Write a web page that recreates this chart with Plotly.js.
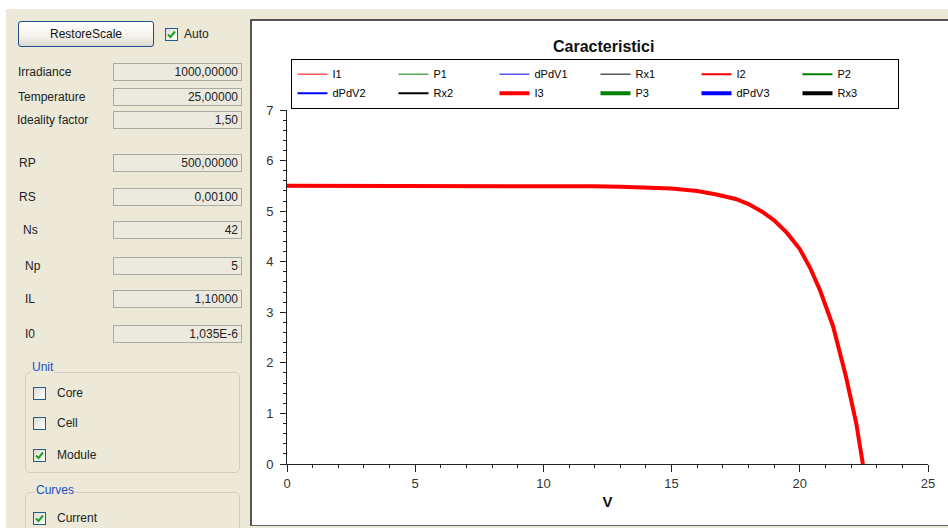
<!DOCTYPE html>
<html>
<head>
<meta charset="utf-8">
<script src="https://cdn.plot.ly/plotly-3.0.1.min.js"></script>
<style>
  html, body { margin:0; padding:0; background:#ffffff; width:948px; height:528px; overflow:hidden; font-family:"Liberation Sans", Arial, sans-serif; }
  .abs { position:absolute; }
  #bg { left:6px; top:9px; width:942px; height:519px; background:#ECE9D8; }
  #panel { left:250px; top:19px; width:698px; height:507px; background:#ffffff; border-top:2px solid #555; border-left:2px solid #555; border-bottom:1px solid #666; box-sizing:border-box; }
  #btn { left:18px; top:21px; width:136px; height:26px; box-sizing:border-box; border:1px solid #1f4f8a; border-radius:3px;
         background:linear-gradient(#ffffff 0%, #f3f2ec 60%, #dcd8cc 100%); font-size:12px; color:#111; text-align:center; line-height:24px; }
  .lbl { font-size:12px; color:#222; white-space:nowrap; transform:translateY(-50%); }
  .box { left:113px; width:129px; height:18px; box-sizing:border-box; border:1px solid #a8aba0; background:#ECEADF;
         font-size:12px; color:#222; text-align:right; padding-right:3px; line-height:16px; }
  .cb { width:13px; height:13px; box-sizing:border-box; border:1px solid #2a5a8c; background:linear-gradient(135deg,#dcdcd5,#ffffff); }
  .grp { left:25px; width:215px; box-sizing:border-box; border:1px solid #d2cfbf; border-radius:5px; }
  .gtitle { font-size:12px; color:#1b4fc4; background:#ECE9D8; padding:0 1px; transform:translateY(-50%); }
  #chart { left:0; top:0; width:948px; height:528px; }
</style>
</head>
<body>
<div id="bg" class="abs"></div>
<div id="panel" class="abs"></div>
<div id="btn" class="abs">RestoreScale</div>
<div id="ui"></div>
<div id="chart" class="abs"></div>
<script>
// ---- UI panel content ----
var paramLabels = ["Irradiance", "Temperature", "Ideality factor", "RP", "RS", "Ns", "Np", "IL", "I0"];
var paramValues = ["1000,00000", "25,00000", "1,50", "500,00000", "0,00100", "42", "5", "1,10000", "1,035E-6"];
var paramRowY   = [72, 97, 120, 163, 197, 230, 266, 299, 334];
var paramLabelX = [18, 18, 17, 19, 19, 23, 25, 25, 25];
var unitLabels  = ["Core", "Cell", "Module"];
var unitChecked = [false, false, true];
var unitRowY    = [393, 423, 455];

// ---- Chart data ----
var chartTitle = "Caracteristici";
var xAxisTitle = "V";
var seriesNames = ["I1", "P1", "dPdV1", "Rx1", "I2", "P2", "dPdV2", "Rx2", "I3", "P3", "dPdV3", "Rx3"];
var voltageV = [0, 2, 4, 6, 8, 10, 12, 13, 14, 15, 16, 16.75, 17.5, 18, 18.5, 19, 19.5, 20, 20.4, 20.8, 21.3, 21.8, 22.2, 22.46];
var currentI3 = [5.50, 5.50, 5.50, 5.50, 5.50, 5.50, 5.49, 5.48, 5.47, 5.45, 5.40, 5.33, 5.24, 5.14, 5.00, 4.82, 4.57, 4.25, 3.88, 3.42, 2.72, 1.73, 0.81, 0.0];
var xTickVals = [0, 5, 10, 15, 20, 25];
var yTickVals = [0, 1, 2, 3, 4, 5, 6, 7];

var ui = document.getElementById('ui');
function add(html){ ui.insertAdjacentHTML('beforeend', html); }
function checkbox(x, y, checked){
  var chk = checked ? '<svg width="11" height="11" style="position:absolute;left:0;top:0"><polyline points="2,5.5 4.5,8 9,2.5" fill="none" stroke="#21a121" stroke-width="2"/></svg>' : '';
  add('<div class="abs cb" style="left:'+x+'px;top:'+(y-6.5)+'px">'+chk+'</div>');
}
checkbox(165, 34, true);
add('<div class="abs lbl" style="left:184px;top:34px">Auto</div>');
for (var i = 0; i < paramLabels.length; i++) {
  add('<div class="abs lbl" style="left:'+paramLabelX[i]+'px;top:'+paramRowY[i]+'px">'+paramLabels[i]+'</div>');
  add('<div class="abs box" style="top:'+(paramRowY[i]-9)+'px">'+paramValues[i]+'</div>');
}
add('<div class="abs grp" style="top:372px;height:101px"></div>');
add('<div class="abs gtitle" style="left:31px;top:367px">Unit</div>');
for (var j = 0; j < unitLabels.length; j++) {
  checkbox(33, unitRowY[j], unitChecked[j]);
  add('<div class="abs lbl" style="left:57px;top:'+unitRowY[j]+'px">'+unitLabels[j]+'</div>');
}
add('<div class="abs grp" style="top:492px;height:60px"></div>');
add('<div class="abs gtitle" style="left:35px;top:490px">Curves</div>');
checkbox(33, 518, true);
add('<div class="abs lbl" style="left:57px;top:518px">Current</div>');

// ---- Plotly chart ----
var baseColors = {I:'#ff0000', P:'#008000', dPdV:'#0000ff', Rx:'#000000'};
function styleFor(name){
  var kind = name.replace(/[0-9]/g, '');
  var idx = parseInt(name.replace(/[^0-9]/g, ''), 10);
  var w = idx === 1 ? 1 : (idx === 2 ? 2 : 4);
  return {color: baseColors[kind], width: w};
}
var traces = seriesNames.map(function(n){
  var hasData = (n === 'I3');
  return {
    type:'scatter', mode:'lines', name:n,
    x: hasData ? voltageV : [null],
    y: hasData ? currentI3 : [null],
    line: styleFor(n),
    hoverinfo:'skip'
  };
});

var F = '"Liberation Sans", Arial, sans-serif';
var axCommon = {showgrid:false, zeroline:false, fixedrange:true};
var layout = {
  width:948, height:528,
  margin:{l:287, r:20, t:110, b:64, pad:0},
  paper_bgcolor:'rgba(0,0,0,0)', plot_bgcolor:'rgba(0,0,0,0)',
  font:{family:F, color:'#222'},
  annotations:[{text:chartTitle, xref:'paper', yref:'paper', x:0.494, y:1.18, xanchor:'center', yanchor:'middle',
                showarrow:false, font:{family:F, size:16, weight:'bold', color:'#111'}}],
  showlegend:true,
  legend:{orientation:'h', x:0.007, xanchor:'left', y:1.145, yanchor:'top',
          bgcolor:'#ffffff', bordercolor:'#000000', borderwidth:1,
          font:{family:F, size:11, color:'#000'}, entrywidth:56, entrywidthmode:'pixels',
          itemwidth:30, traceorder:'normal'},
  xaxis: Object.assign({}, axCommon, {
    range:[0,25], tickvals:xTickVals, ticks:'outside', ticklen:7, tickwidth:1, tickcolor:'#222',
    showline:true, linecolor:'#222', linewidth:1,
    minor:{dtick:1, tick0:0, ticks:'outside', ticklen:3, tickcolor:'#222', showgrid:false},
    tickfont:{family:F, size:13, color:'#333'},
    title:{text:xAxisTitle, font:{family:F, size:15, weight:'bold', color:'#111'}, standoff:6}
  }),
  yaxis: Object.assign({}, axCommon, {
    range:[0,7], tickvals:yTickVals, ticks:'outside', ticklen:6, tickwidth:1, tickcolor:'#222',
    showline:true, linecolor:'#222', linewidth:1, ticklabelstandoff:4,
    minor:{dtick:0.2, tick0:0, ticks:'outside', ticklen:3, tickcolor:'#222', showgrid:false},
    tickfont:{family:F, size:13, color:'#333'}
  }),
  xaxis2: Object.assign({}, axCommon, {
    overlaying:'x', anchor:'y', side:'bottom', range:[0,25], tickvals:xTickVals,
    ticks:'inside', ticklen:7, tickcolor:'#222', showticklabels:false, showline:false,
    minor:{dtick:1, tick0:0, ticks:'inside', ticklen:3, tickcolor:'#222', showgrid:false}
  }),
  yaxis2: Object.assign({}, axCommon, {
    overlaying:'y', anchor:'x', side:'left', range:[0,7], tickvals:yTickVals,
    ticks:'inside', ticklen:7, tickcolor:'#222', showticklabels:false, showline:false,
    minor:{dtick:0.2, tick0:0, ticks:'inside', ticklen:3, tickcolor:'#222', showgrid:false}
  }),
  yaxis3: Object.assign({}, axCommon, {
    overlaying:'y', anchor:'x', side:'right', range:[0,7], tickvals:yTickVals,
    ticks:'inside', ticklen:8, tickcolor:'#222', showticklabels:false, showline:true, linecolor:'#222',
    minor:{dtick:0.2, tick0:0, ticks:'inside', ticklen:5, tickcolor:'#222', showgrid:false}
  }),
  xaxis3: Object.assign({}, axCommon, {
    overlaying:'x', anchor:'y', side:'top', range:[0,25], tickvals:xTickVals,
    ticks:'inside', ticklen:5, tickcolor:'#999', showticklabels:false, showline:false,
    minor:{dtick:1, tick0:0, ticks:'inside', ticklen:3, tickcolor:'#aaa', showgrid:false}
  })
};
Plotly.newPlot('chart', traces, layout, {staticPlot:true, displayModeBar:false});
</script>
</body>
</html>
